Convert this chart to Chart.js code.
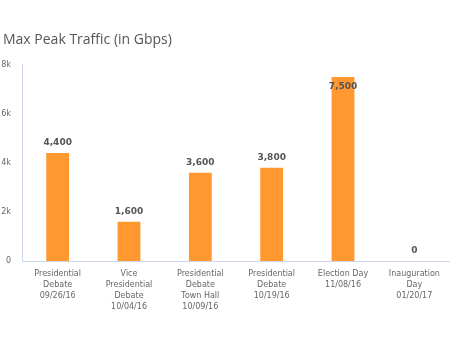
<!DOCTYPE html>
<html>
<head>
<meta charset="utf-8">
<script src="https://cdn.jsdelivr.net/npm/chart.js@4.4.1/dist/chart.umd.min.js"></script>
<style>
  html, body { margin: 0; padding: 0; background: #fff; }
  #wrap { width: 450px; height: 345px; position: relative; }
</style>
</head>
<body>
<div id="wrap"><canvas id="mycanvas"></canvas></div>
<script>
var events = [
  ["Presidential", "Debate", "09/26/16"],
  ["Vice", "Presidential", "Debate", "10/04/16"],
  ["Presidential", "Debate", "Town Hall", "10/09/16"],
  ["Presidential", "Debate", "10/19/16"],
  ["Election Day", "11/08/16"],
  ["Inauguration", "Day", "01/20/17"]
];
var peakGbps = [4400, 1600, 3600, 3800, 7500, 0];
var yTicks = [0, 2000, 4000, 6000, 8000];
var yTickLabels = ["0", "2k", "4k", "6k", "8k"];

// value labels over each bar, pushed inside when they would hit the top
var barLabels = {
  id: "barLabels",
  afterLayout: function(chart) {
    // nudge the title in a little from the edge
    if (chart.titleBlock) {
      chart.titleBlock.left += 3;
      chart.titleBlock.right += 3;
    }
  },
  afterDatasetsDraw: function(chart) {
    var ctx = chart.ctx;
    var meta = chart.getDatasetMeta(0);
    var area = chart.chartArea;
    ctx.save();
    ctx.font = "bold 9px 'DejaVu Sans'";
    ctx.fillStyle = "#555";
    ctx.textAlign = "center";
    ctx.textBaseline = "middle";
    meta.data.forEach(function(bar, i) {
      var text = peakGbps[i].toLocaleString("en-US");
      var y = bar.y - 10;
      if (y - 5 < area.top) y = bar.y + 10;
      ctx.fillText(text, bar.x, y);
    });
    ctx.restore();
  }
};

var ctx = document.getElementById("mycanvas");

var chart = new Chart(ctx, {
  type: "bar",
  data: {
    labels: events,
    datasets: [
      {
        label: "Max Peak Traffic",
        data: peakGbps,
        backgroundColor: "#ff992f",
        borderWidth: 0,
        categoryPercentage: 1,
        barPercentage: 0.32
      }
    ]
  },
  options: {
    responsive: true,
    maintainAspectRatio: false,
    animation: false,
    layout: { padding: 0 },
    plugins: {
      legend: { display: false },
      tooltip: { enabled: false },
      title: {
        display: true,
        text: "Max Peak Traffic (in Gbps)",
        align: "start",
        color: "#555",
        font: { family: "'Open Sans'", size: 14, weight: "normal", lineHeight: 1.2 },
        padding: { top: 32, bottom: 16 }
      }
    },
    scales: {
      x: {
        grid: { display: false, drawTicks: false },
        border: { display: true, color: "#ccd6eb", width: 1 },
        ticks: {
          color: "#666",
          padding: 7,
          maxRotation: 0,
          autoSkip: false,
          font: { family: "'DejaVu Sans'", size: 8, lineHeight: 1.375 }
        },
        afterFit: function(scale) { scale.height = 84; }
      },
      y: {
        min: 0,
        max: 8000,
        grid: { display: false, drawTicks: false },
        border: { display: true, color: "#ccd6eb", width: 1 },
        afterBuildTicks: function(scale) {
          scale.ticks = yTicks.map(function(v) { return { value: v }; });
        },
        ticks: {
          color: "#666",
          padding: 11,
          font: { family: "'DejaVu Sans'", size: 8 },
          callback: function(v) { return yTickLabels[yTicks.indexOf(v)]; }
        },
        afterFit: function(scale) { scale.width = 22; }
      }
    }
  },
  plugins: [barLabels]
});
</script>
</body>
</html>
